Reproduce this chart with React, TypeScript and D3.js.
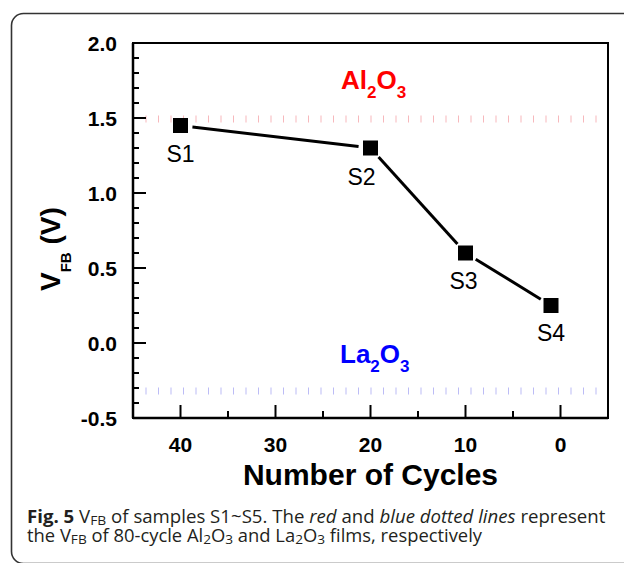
import React from "react";
import * as d3 from "d3";

const cycles = [40, 20, 10, 1];
const vfb = [1.45, 1.3, 0.6, 0.25];
const sampleLabels = ["S1", "S2", "S3", "S4"];
const xMajorTicks = [40, 30, 20, 10, 0];
const xMinorTicks = [35, 25, 15, 5];
const yMajorTicks = [-0.5, 0, 0.5, 1.0, 1.5, 2.0];
const yMinorTicks = d3.range(-5, 21).map((d) => d / 10);
const al2o3Vfb = 1.5;
const la2o3Vfb = -0.32;

const W = 624;
const H = 563;
const plot = { left: 133, right: 608, top: 43, bottom: 418 };

export default function App() {
  const x = d3.scaleLinear().domain([45, -5]).range([plot.left, plot.right]);
  const y = d3.scaleLinear().domain([-0.5, 2.0]).range([plot.bottom, plot.top]);
  const pts = cycles.map((c, i) => ({ x: x(c), y: y(vfb[i]), label: sampleLabels[i] }));
  const trim = 12;
  const segs = pts.slice(1).map((p, i) => {
    const a = pts[i];
    const dx = p.x - a.x;
    const dy = p.y - a.y;
    const len = Math.hypot(dx, dy);
    const ux = dx / len;
    const uy = dy / len;
    return { x1: a.x + ux * trim, y1: a.y + uy * trim, x2: p.x - ux * trim, y2: p.y - uy * trim };
  });
  const labelOffsets = [
    { dx: 0, dy: 36 },
    { dx: -9, dy: 37 },
    { dx: -2, dy: 36 },
    { dx: 0, dy: 35 },
  ];
  const bold = "'Liberation Sans', Arial, Helvetica, sans-serif";
  const cap = "'Open Sans', 'Noto Sans', sans-serif";
  return (
    <svg width={W} height={H} style={{ position: "absolute", left: 0, top: 0 }}>
      <rect x={0} y={0} width={W} height={H} fill="#fff" />
      <rect x={11.5} y={13.5} width={700} height={550} rx={12} ry={12} fill="none" stroke="#333" strokeWidth={1.6} />
      {/* reference dotted lines */}
      <line x1={plot.left} x2={597} y1={y(al2o3Vfb) + 1} y2={y(al2o3Vfb) + 1} stroke="#f7b8bc" strokeWidth={7} strokeDasharray="1 11.5" />
      <line x1={plot.left} x2={597} y1={y(la2o3Vfb)} y2={y(la2o3Vfb)} stroke="#bcbcf6" strokeWidth={7} strokeDasharray="1 11.5" />
      {/* ticks */}
      {xMajorTicks.map((t) => (
        <line key={"xm" + t} x1={x(t)} x2={x(t)} y1={plot.bottom} y2={plot.bottom - 13} stroke="#000" strokeWidth={2} />
      ))}
      {xMinorTicks.map((t) => (
        <line key={"xn" + t} x1={x(t)} x2={x(t)} y1={plot.bottom} y2={plot.bottom - 7} stroke="#000" strokeWidth={2} />
      ))}
      {yMinorTicks.map((t) => (
        <line key={"yn" + t} x1={plot.left} x2={plot.left + 6} y1={y(t)} y2={y(t)} stroke="#000" strokeWidth={2} />
      ))}
      {yMajorTicks.map((t) => (
        <line key={"ym" + t} x1={plot.left} x2={plot.left + 13} y1={y(t)} y2={y(t)} stroke="#000" strokeWidth={2} />
      ))}
      {/* frame */}
      <rect x={plot.left} y={plot.top} width={plot.right - plot.left} height={plot.bottom - plot.top} fill="none" stroke="#000" strokeWidth={2} />
      <line x1={plot.left} x2={plot.left} y1={plot.top} y2={plot.bottom} stroke="#000" strokeWidth={2.5} />
      <line x1={plot.left} x2={plot.right} y1={plot.bottom} y2={plot.bottom} stroke="#000" strokeWidth={2.5} />
      {/* tick labels */}
      {yMajorTicks.map((t) => (
        <text key={"yl" + t} x={117} y={y(t) + 7.5} textAnchor="end" fontFamily={bold} fontWeight="bold" fontSize={21} fill="#000">
          {t.toFixed(1)}
        </text>
      ))}
      {xMajorTicks.map((t) => (
        <text key={"xl" + t} x={x(t)} y={452} textAnchor="middle" fontFamily={bold} fontWeight="bold" fontSize={21} fill="#000">
          {t}
        </text>
      ))}
      {/* axis titles */}
      <text x={370.5} y={485} textAnchor="middle" fontFamily={bold} fontWeight="bold" fontSize={30} fill="#000">
        Number of Cycles
      </text>
      <text transform="translate(60,291) rotate(-90)" fontFamily={bold} fontWeight="bold" fontSize={28} fill="#000">
        V
        <tspan fontSize={15} dy={11}>FB</tspan>
        <tspan dy={-11}> (V)</tspan>
      </text>
      {/* data line */}
      {segs.map((s, i) => (
        <line key={"s" + i} {...s} stroke="#000" strokeWidth={3} />
      ))}
      {pts.map((p, i) => (
        <rect key={"p" + i} x={p.x - 7.5} y={p.y - 7.5} width={15} height={15} fill="#000" />
      ))}
      {pts.map((p, i) => (
        <text key={"l" + i} x={p.x + labelOffsets[i].dx} y={p.y + labelOffsets[i].dy} textAnchor="middle" fontFamily={bold} fontSize={23} fill="#000">
          {p.label}
        </text>
      ))}
      {/* material labels */}
      <text x={341} y={89} fontFamily={bold} fontWeight="bold" fontSize={26} fill="#ff0000">
        Al<tspan fontSize={17} dy={9}>2</tspan><tspan dy={-9}>O</tspan><tspan fontSize={17} dy={9}>3</tspan>
      </text>
      <text x={340} y={363} fontFamily={bold} fontWeight="bold" fontSize={26} fill="#0000ff">
        La<tspan fontSize={17} dy={9}>2</tspan><tspan dy={-9}>O</tspan><tspan fontSize={17} dy={9}>3</tspan>
      </text>
      {/* caption */}
      <text transform="translate(27,523) scale(1.065,1)" x={0} y={0} fontFamily={cap} fontSize={17.5} fill="#231f20">
        <tspan fontWeight="bold">Fig. 5</tspan> V<tspan fontSize={13} dy={2}>FB</tspan><tspan dy={-2}> of samples S1~S5. The </tspan>
        <tspan fontStyle="italic">red</tspan> and <tspan fontStyle="italic">blue dotted lines</tspan> represent
      </text>
      <text transform="translate(27,542) scale(1.05,1)" x={0} y={0} fontFamily={cap} fontSize={17.5} fill="#231f20">
        the V<tspan fontSize={13} dy={2}>FB</tspan><tspan dy={-2}> of 80-cycle Al</tspan><tspan fontSize={13} dy={2}>2</tspan><tspan dy={-2}>O</tspan><tspan fontSize={13} dy={2}>3</tspan><tspan dy={-2}> and La</tspan><tspan fontSize={13} dy={2}>2</tspan><tspan dy={-2}>O</tspan><tspan fontSize={13} dy={2}>3</tspan><tspan dy={-2}> films, respectively</tspan>
      </text>
    </svg>
  );
}
